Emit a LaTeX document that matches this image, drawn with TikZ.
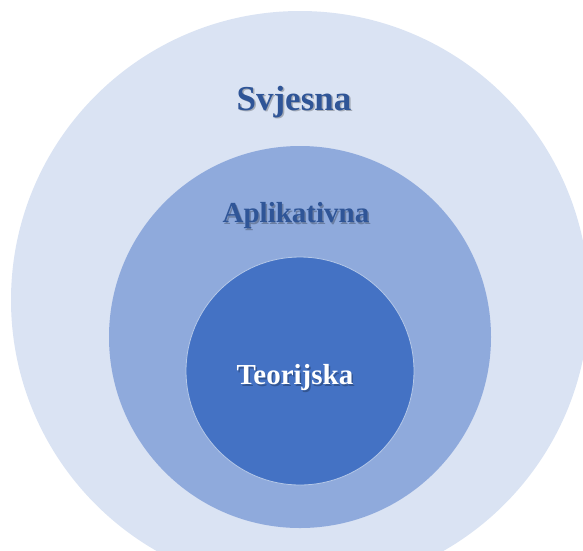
\documentclass[tikz,border=0pt]{standalone}
\usepackage{fontspec}
\setmainfont{Liberation Serif}
\definecolor{svijetla}{HTML}{DAE3F3}
\definecolor{srednja}{HTML}{8FAADC}
\definecolor{tamna}{HTML}{4472C4}
\definecolor{natpis}{HTML}{2F5597}
\begin{document}
\begin{tikzpicture}[
			x=1pt, y=-1pt,
			krug/.style={circle, inner sep=0pt},
			natpis/.style={font=\bfseries\fontsize{29}{31}\selectfont},
			veliki/.style={font=\bfseries\fontsize{35}{37}\selectfont},
			sjena/.style={text=black, opacity=0.25}
		]
		\useasboundingbox (0,0) rectangle (583,550);
		\clip (0,0) rectangle (583,550);
		\node[krug, fill=svijetla, minimum size=578pt] (svjesna) at (300,300) {};
		\node[krug, fill=srednja, minimum size=382pt] (aplikativna) at (300,337) {};
		\node[krug, fill=tamna, minimum size=228pt, draw=white!60!tamna, line width=0.8pt] (teorijska) at (300,371) {};
		% sjene natpisa
		\node[veliki, sjena] at (295.5,103.5) {Svjesna};
		\node[natpis, sjena] at (297.5,217.5) {Aplikativna};
		\node[natpis, sjena] at (296.5,379.5) {Teorijska};
		% natpisi
		\node[veliki, text=natpis] (svjesna-tekst) at (294,102) {Svjesna};
		\node[natpis, text=natpis] (aplikativna-tekst) at (296,216) {Aplikativna};
		\node[natpis, text=white] (teorijska-tekst) at (295,378) {Teorijska};
	\end{tikzpicture}
\end{document}
